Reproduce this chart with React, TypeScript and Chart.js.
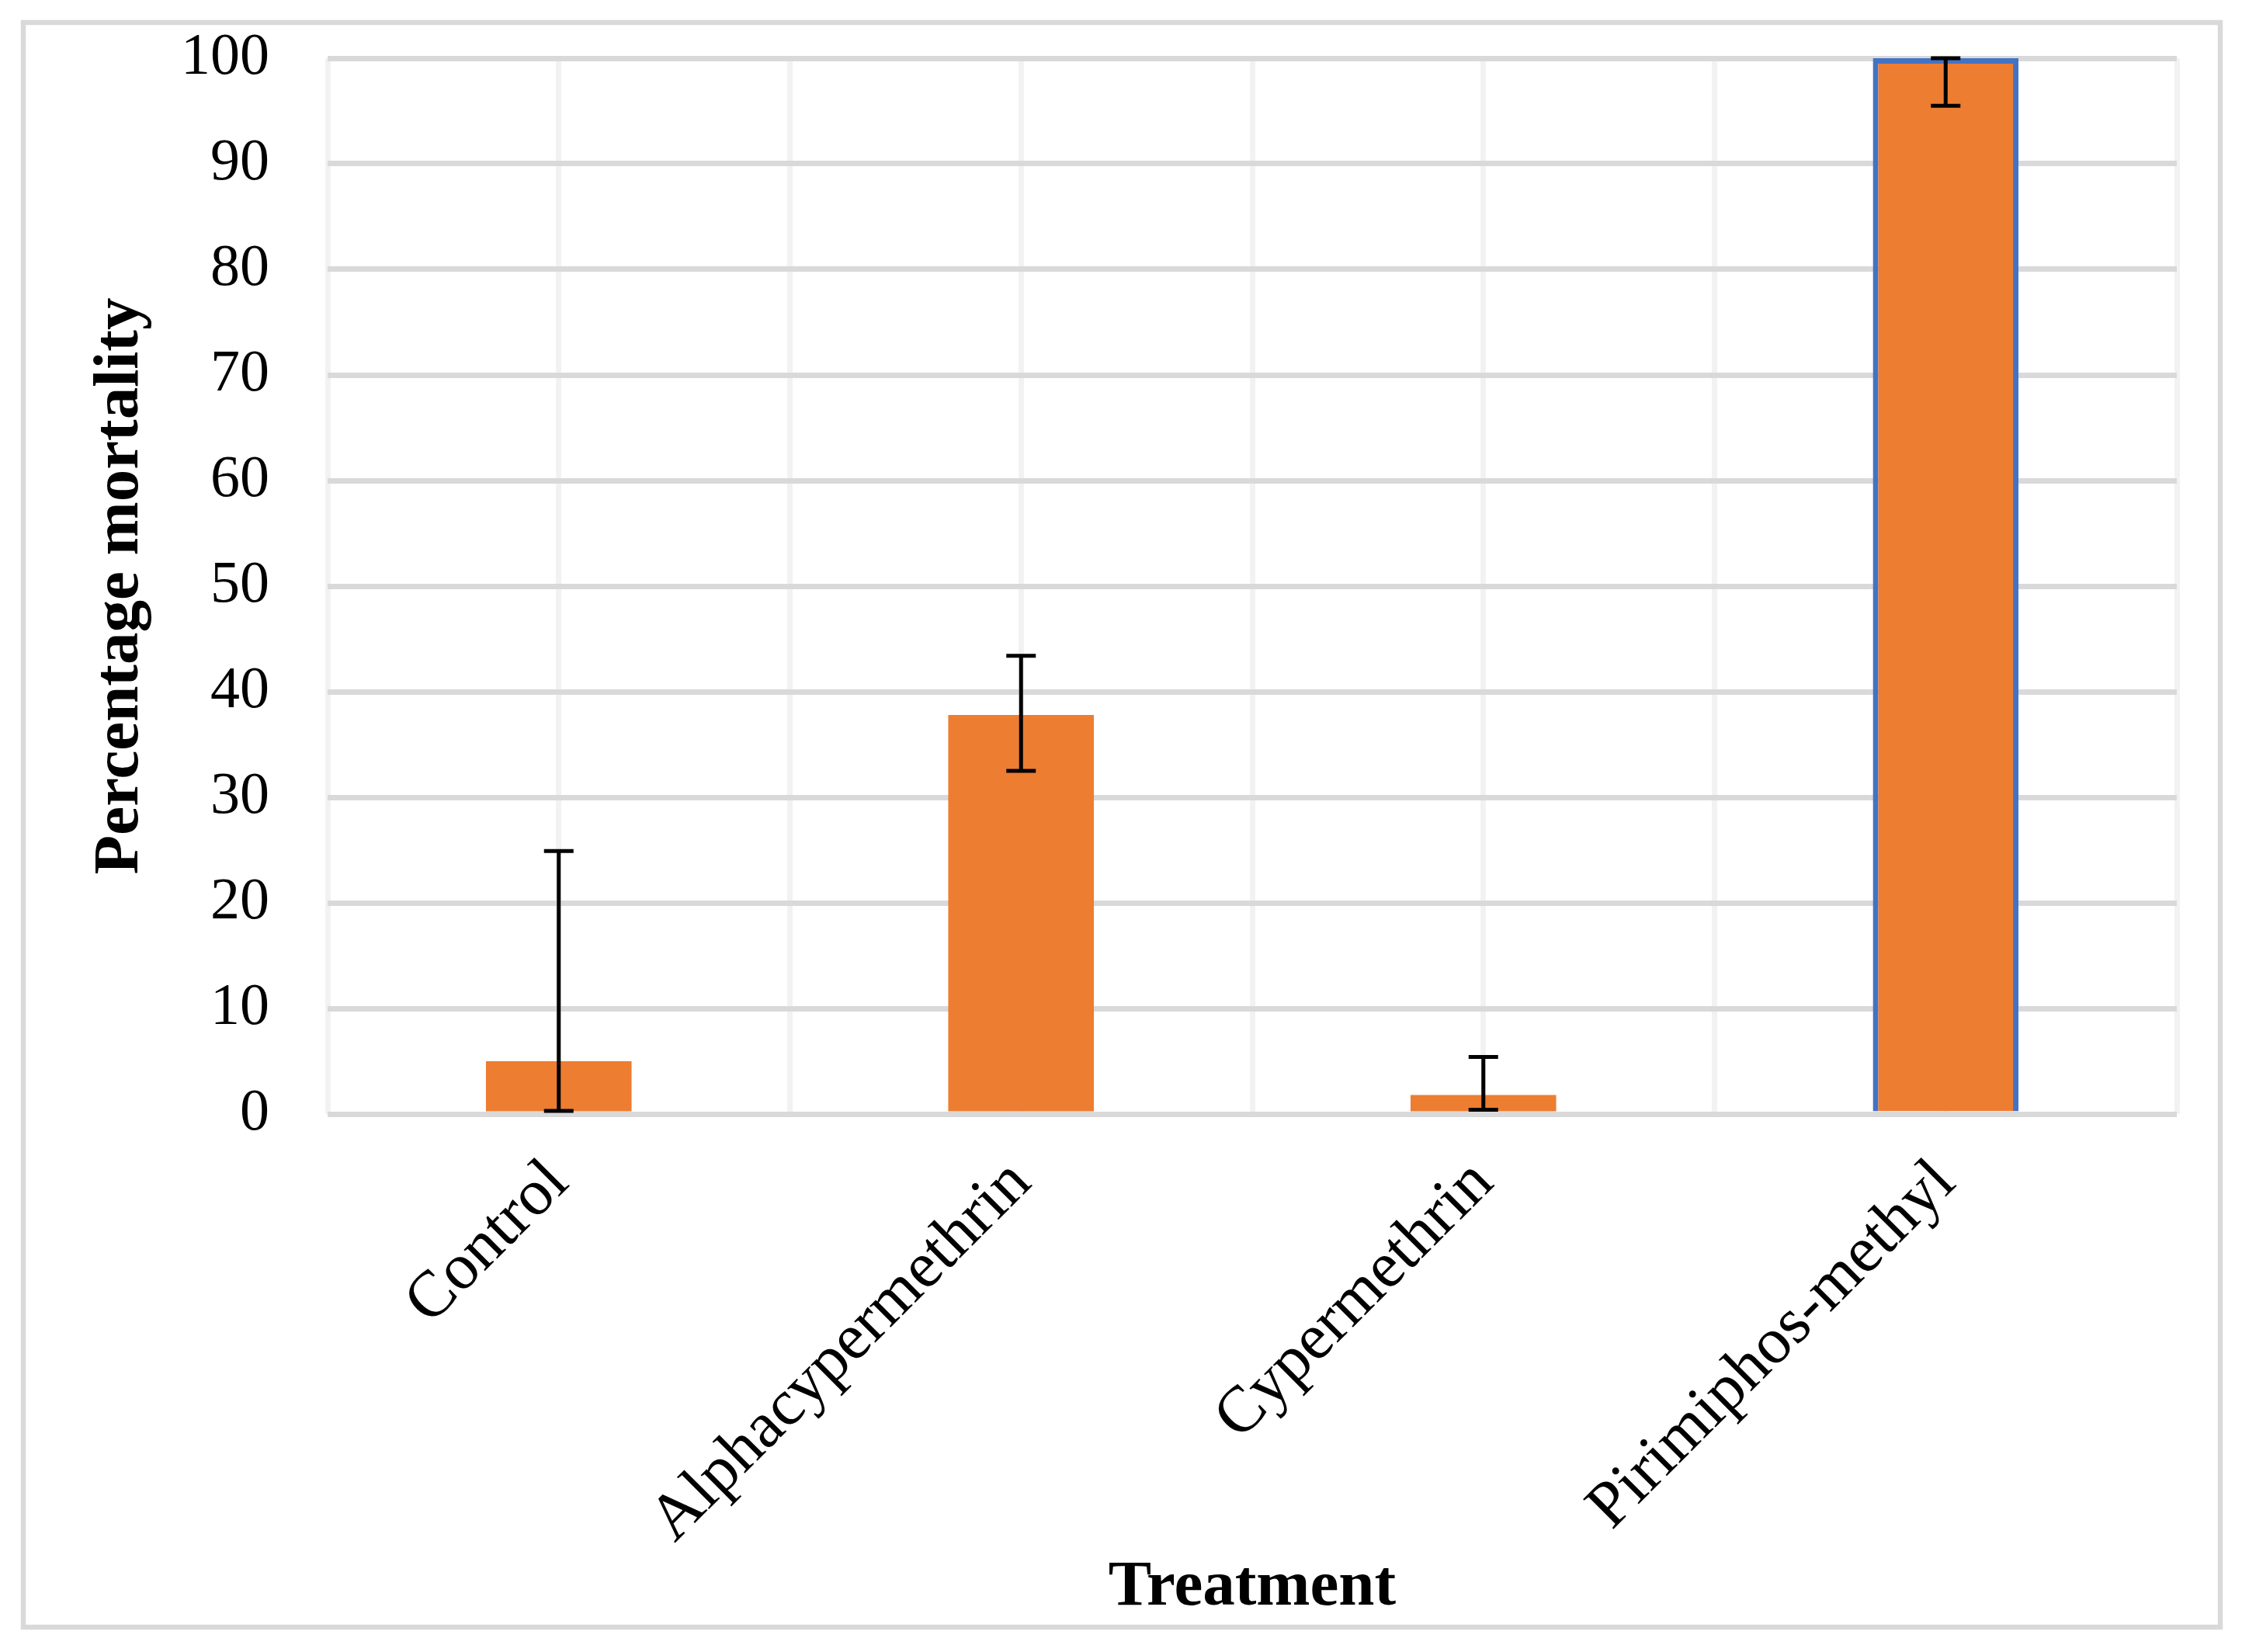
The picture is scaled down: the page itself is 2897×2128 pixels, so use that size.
import React, { useEffect, useRef } from "react";
import { Chart, registerables } from "chart.js";

Chart.register(...registerables);

const categories = ["Control", "Alphacypermethrin", "Cypermethrin", "Pirimiphos-methyl"];
const mortality = [5, 37.8, 1.8, 100];
const errorLow = [0.3, 32.5, 0.4, 95.5];
const errorHigh = [24.9, 43.4, 5.4, 100];
const yTicks = [0, 10, 20, 30, 40, 50, 60, 70, 80, 90, 100];
const xTitle = "Treatment";
const yTitle = "Percentage mortality";

const W = 2897;
const H = 2128;
const FONT = '"Liberation Serif", "Times New Roman", serif';

const frame = {
  id: "frame",
  beforeDraw(chart: any) {
    const ctx = chart.ctx;
    ctx.save();
    ctx.fillStyle = "#ffffff";
    ctx.fillRect(0, 0, chart.width, chart.height);
    ctx.strokeStyle = "#d9d9d9";
    ctx.lineWidth = 6.5;
    ctx.strokeRect(30, 29, 2830, 2067);
    ctx.restore();
  },
};

const errorBars = {
  id: "errorBars",
  afterDatasetsDraw(chart: any) {
    const ctx = chart.ctx;
    const xs = chart.scales.x;
    const ys = chart.scales.y;
    ctx.save();
    ctx.strokeStyle = "#000000";
    ctx.lineWidth = 5;
    ctx.lineCap = "butt";
    const half = 19;
    for (let i = 0; i < categories.length; i++) {
      const x = xs.getPixelForValue(i);
      const yl = ys.getPixelForValue(errorLow[i]);
      const yh = ys.getPixelForValue(errorHigh[i]);
      ctx.beginPath();
      ctx.moveTo(x, yl);
      ctx.lineTo(x, yh);
      ctx.moveTo(x - half, yl);
      ctx.lineTo(x + half, yl);
      ctx.moveTo(x - half, yh);
      ctx.lineTo(x + half, yh);
      ctx.stroke();
    }
    ctx.restore();
  },
};

export default function App() {
  const ref = useRef<HTMLCanvasElement | null>(null);

  useEffect(() => {
    document.body.style.margin = "0";
    document.body.style.overflow = "hidden";
    const canvas = ref.current;
    if (!canvas) return;
    const chart = new Chart(canvas, {
      type: "bar",
      data: {
        labels: categories,
        datasets: [
          {
            data: mortality,
            backgroundColor: "#ed7d31",
            borderColor: ["#ed7d31", "#ed7d31", "#ed7d31", "#4472c4"],
            borderWidth: [0, 0, 0, 7],
            barPercentage: 0.315,
            categoryPercentage: 1,
          },
        ],
      },
      options: {
        responsive: false,
        animation: false,
        devicePixelRatio: 1,
        layout: { padding: { left: 102, top: 75, right: 93, bottom: 29 } },
        plugins: {
          legend: { display: false },
          tooltip: { enabled: false },
        },
        scales: {
          x: {
            type: "category",
            offset: true,
            grid: { offset: true, color: "#f2f2f2", lineWidth: 7, drawTicks: false },
            border: { display: false },
            ticks: {
              color: "#000",
              font: { family: FONT, size: 84 },
              maxRotation: 45,
              minRotation: 45,
              padding: 40,
            },
            title: {
              display: true,
              text: xTitle,
              color: "#000",
              font: { family: FONT, size: 83, weight: "bold" },
              padding: { top: 0, bottom: 4 },
            },
            afterFit: (s: any) => {
              s.height = 664;
              s.paddingLeft = 0;
              s.paddingRight = 0;
            },
          },
          x2: {
            type: "category",
            labels: categories,
            position: "bottom",
            offset: true,
            grid: { offset: false, color: "#f2f2f2", lineWidth: 7, drawTicks: false },
            border: { display: false },
            ticks: { display: false },
            afterFit: (s: any) => {
              s.height = 0;
              s.paddingLeft = 0;
              s.paddingRight = 0;
            },
          },
          y: {
            type: "linear",
            min: 0,
            max: 100,
            afterBuildTicks: (s: any) => {
              s.ticks = yTicks.map((v) => ({ value: v }));
            },
            grid: { color: "#d9d9d9", lineWidth: 7, drawTicks: false },
            border: { display: false },
            ticks: {
              color: "#000",
              font: { family: FONT, size: 76 },
              padding: 75,
            },
            title: {
              display: true,
              text: yTitle,
              color: "#000",
              font: { family: FONT, size: 83, weight: "bold" },
              padding: { top: 4, bottom: 0 },
            },
            afterFit: (s: any) => {
              s.width = 320;
              s.paddingTop = 0;
              s.paddingBottom = 0;
            },
          },
        },
      },
      plugins: [frame, errorBars],
    } as any);
    return () => chart.destroy();
  }, []);

  return (
    <div style={{ width: W, height: H }}>
      <canvas ref={ref} width={W} height={H} style={{ width: W, height: H, display: "block" }} />
    </div>
  );
}
